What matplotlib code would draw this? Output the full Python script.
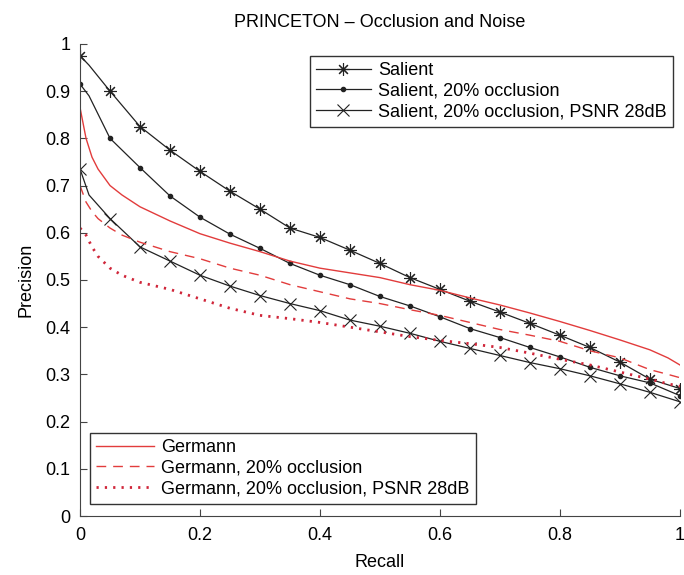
import matplotlib.pyplot as plt

plt.rcParams['font.family'] = ['Liberation Sans', 'DejaVu Sans']

# Salient curves (markers every 0.05 recall, one extra point near 0 for the kink)
recall_s = [0, 0.015, 0.05, 0.1, 0.15, 0.2, 0.25, 0.3, 0.35, 0.4, 0.45, 0.5,
            0.55, 0.6, 0.65, 0.7, 0.75, 0.8, 0.85, 0.9, 0.95, 1.0]
salient = [0.975, 0.955, 0.90, 0.825, 0.775, 0.73, 0.688, 0.65, 0.61, 0.59, 0.563, 0.535,
           0.505, 0.48, 0.455, 0.432, 0.408, 0.383, 0.357, 0.326, 0.29, 0.27]
salient_occ = [0.915, 0.89, 0.80, 0.738, 0.678, 0.633, 0.597, 0.567, 0.535, 0.51, 0.49, 0.465,
               0.445, 0.422, 0.397, 0.378, 0.357, 0.337, 0.315, 0.297, 0.282, 0.255]
salient_noise = [0.735, 0.68, 0.63, 0.57, 0.54, 0.51, 0.487, 0.467, 0.45, 0.435, 0.415, 0.402,
                 0.387, 0.37, 0.355, 0.34, 0.325, 0.312, 0.297, 0.28, 0.262, 0.242]
marks = [0] + list(range(2, len(recall_s)))

# Germann curves
recall_g = [0, 0.01, 0.02, 0.03, 0.05, 0.07, 0.1, 0.15, 0.2, 0.25, 0.3, 0.35, 0.4, 0.45,
            0.5, 0.55, 0.6, 0.65, 0.7, 0.75, 0.8, 0.85, 0.9, 0.95, 0.98, 1.0]
germann = [0.865, 0.80, 0.76, 0.735, 0.70, 0.68, 0.655, 0.625, 0.598, 0.578, 0.56, 0.54, 0.525,
           0.515, 0.505, 0.49, 0.478, 0.462, 0.447, 0.43, 0.412, 0.393, 0.373, 0.352, 0.335, 0.32]
germann_occ = [0.70, 0.665, 0.645, 0.63, 0.61, 0.595, 0.58, 0.56, 0.545, 0.525, 0.51, 0.49, 0.475,
               0.46, 0.45, 0.437, 0.425, 0.41, 0.395, 0.383, 0.37, 0.35, 0.335, 0.31, 0.30, 0.293]
germann_noise = [0.61, 0.595, 0.57, 0.55, 0.525, 0.51, 0.495, 0.48, 0.46, 0.44, 0.425, 0.418, 0.41,
                 0.40, 0.39, 0.38, 0.372, 0.365, 0.357, 0.345, 0.332, 0.32, 0.305, 0.29, 0.28, 0.275]

fig = plt.figure(figsize=(6.84, 5.75), dpi=100)
ax = fig.add_axes([0.117, 0.1026, 0.877, 0.821])

red = '#e23c3c'
l1, = ax.plot(recall_s, salient, '-', color='#222222', lw=0.9, marker=(8, 2, 0), ms=9,
              mew=0.8, markevery=marks, label='Salient')
l2, = ax.plot(recall_s, salient_occ, '-', color='#222222', lw=0.9, marker='.', ms=6,
              markevery=marks, label='Salient, 20% occlusion')
l3, = ax.plot(recall_s, salient_noise, '-', color='#222222', lw=0.9, marker='x', ms=8,
              mew=0.8, markevery=marks, label='Salient, 20% occlusion, PSNR 28dB')
g1, = ax.plot(recall_g, germann, '-', color=red, lw=1.0, label='Germann')
g2, = ax.plot(recall_g, germann_occ, color=red, lw=1.0, ls=(0, (7, 5)),
              label='Germann, 20% occlusion')
g3, = ax.plot(recall_g, germann_noise, color='#d0263a', lw=2.0, ls=(0, (0.8, 2.2)),
              label='Germann, 20% occlusion, PSNR 28dB')

ax.set_xlim(0, 1)
ax.set_ylim(0, 1)
ax.set_xticks([0, 0.2, 0.4, 0.6, 0.8, 1.0])
ax.set_xticklabels(['0', '0.2', '0.4', '0.6', '0.8', '1'])
ax.set_yticks([i / 10 for i in range(11)])
ax.set_yticklabels(['0'] + ['0.%d' % i for i in range(1, 10)] + ['1'])
ax.tick_params(direction='in', length=5, labelsize=13, color='#444444')
ax.tick_params(axis='x', pad=8)
ax.tick_params(axis='y', pad=7)
for s in ['top', 'right']:
    ax.spines[s].set_visible(False)
for s in ['left', 'bottom']:
    ax.spines[s].set_color('#444444')

ax.set_xlabel('Recall', fontsize=13, labelpad=7)
ax.set_ylabel('Precision', fontsize=13, labelpad=8)
ax.set_title('PRINCETON \u2013 Occlusion and Noise', fontsize=13, pad=12)

leg1 = ax.legend(handles=[l1, l2, l3], loc='upper right', bbox_to_anchor=(0.988, 0.975),
                 fontsize=13, fancybox=False, framealpha=1, edgecolor='#333333',
                 handlelength=3.0, borderpad=0.35, labelspacing=0.2, handletextpad=0.4,
                 borderaxespad=0)
ax.add_artist(leg1)
ax.legend(handles=[g1, g2, g3], loc='lower left', bbox_to_anchor=(0.016, 0.026),
          fontsize=13, fancybox=False, framealpha=1, edgecolor='#333333',
          handlelength=3.2, borderpad=0.35, labelspacing=0.2, handletextpad=0.4,
          borderaxespad=0)

fig.savefig('out.png', dpi=100)
